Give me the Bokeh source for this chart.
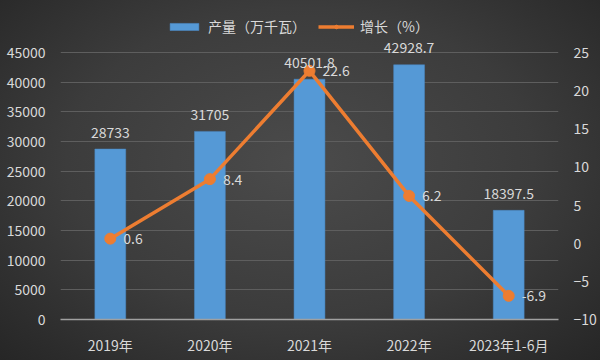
from bokeh.plotting import figure
from bokeh.models import (FactorRange, Range1d, LinearAxis, FixedTicker,
                          Legend, LegendItem, ColumnDataSource)
from bokeh.core.properties import value
from bokeh.embed import file_html
from bokeh.resources import INLINE

categories = ["2019年", "2020年", "2021年", "2022年", "2023年1-6月"]
output = [28733, 31705, 40501.8, 42928.7, 18397.5]
output_labels = ["28733", "31705", "40501.8", "42928.7", "18397.5"]
growth = [0.6, 8.4, 22.6, 6.2, -6.9]
growth_labels = ["0.6", "8.4", "22.6", "6.2", "-6.9"]
left_ticks = [0, 5000, 10000, 15000, 20000, 25000, 30000, 35000, 40000, 45000]
right_ticks = [-10, -5, 0, 5, 10, 15, 20, 25]

FONT = "Noto Sans CJK SC"
TXT = "#d9d9d9"

W, H = 600, 360
FL, FR, FT, FB = 60, 558, 8, 319     # frame box in pixels
AXIS_TOP = 52                         # pixel of top tick
extra = (AXIS_TOP - FT) / (FB - AXIS_TOP)
lmin, lmax = left_ticks[0], left_ticks[-1]
rmin, rmax = right_ticks[0], right_ticks[-1]

src = ColumnDataSource(dict(cat=categories, out=output, outl=output_labels,
                            g=growth, gl=growth_labels))

p = figure(width=W, height=H, x_range=FactorRange(*categories),
           y_range=Range1d(lmin, lmax + (lmax - lmin) * extra),
           output_backend="svg", toolbar_location=None,
           min_border_left=FL, min_border_right=W - FR,
           min_border_top=FT, min_border_bottom=H - FB)
p.extra_y_ranges = {"right": Range1d(rmin, rmax + (rmax - rmin) * extra)}
p.x_range.range_padding = 0
p.background_fill_alpha = 0
p.border_fill_alpha = 0
p.outline_line_color = None
p.styles = {"background": "radial-gradient(ellipse at 50% 45%, #4b4b4b 0%, #3c3c3c 55%, #262626 100%)"}

bars = p.vbar(x="cat", top="out", width=0.31, source=src,
              fill_color="#5599d6", line_color="#4a88c4", line_width=0.5)
line = p.line(x="cat", y="g", source=src, y_range_name="right",
              line_color="#ed7d31", line_width=3.5)
pts = p.scatter(x="cat", y="g", source=src, y_range_name="right",
                size=11, fill_color="#ed7d31", line_color="#ed7d31")

p.text(x="cat", y="out", text="outl", source=src, text_align="center",
       text_baseline="middle", y_offset=-17, text_color=TXT,
       text_font=value(FONT), text_font_size="14px")
p.text(x="cat", y="g", text="gl", source=src, y_range_name="right",
       text_align="left", text_baseline="middle", x_offset=13, text_color=TXT,
       text_font=value(FONT), text_font_size="14px")

p.yaxis.ticker = FixedTicker(ticks=left_ticks)
ra = LinearAxis(y_range_name="right", ticker=FixedTicker(ticks=right_ticks))
p.add_layout(ra, "right")

for ax in [p.yaxis[0], ra]:
    ax.axis_line_color = None
    ax.major_tick_line_color = None
    ax.minor_tick_line_color = None
    ax.major_label_text_color = TXT
    ax.major_label_text_font = FONT
    ax.major_label_text_font_size = "14px"
    ax.major_label_standoff = 9
p.xaxis.axis_line_color = "#a0a0a0"
p.xaxis.axis_line_width = 1.5
p.xaxis.major_tick_line_color = None
p.xaxis.minor_tick_line_color = None
p.xaxis.major_label_text_color = TXT
p.xaxis.major_label_text_font = FONT
p.xaxis.major_label_text_font_size = "14px"
p.xaxis.major_label_standoff = 9

p.xgrid.grid_line_color = None
p.ygrid.grid_line_color = "#5e5e5e"
p.ygrid.grid_line_width = 1

legend = Legend(items=[LegendItem(label="产量（万千瓦）", renderers=[bars]),
                       LegendItem(label="增长（%）", renderers=[line, pts])],
                orientation="horizontal", location=(106, FB - 36),
                background_fill_alpha=0, border_line_color=None,
                label_text_color=TXT, label_text_font=FONT, label_text_font_size="14px",
                glyph_width=36, glyph_height=9, spacing=12, padding=4, margin=0,
                label_standoff=6)
p.add_layout(legend)

open("out.html", "w").write(file_html(p, INLINE))
